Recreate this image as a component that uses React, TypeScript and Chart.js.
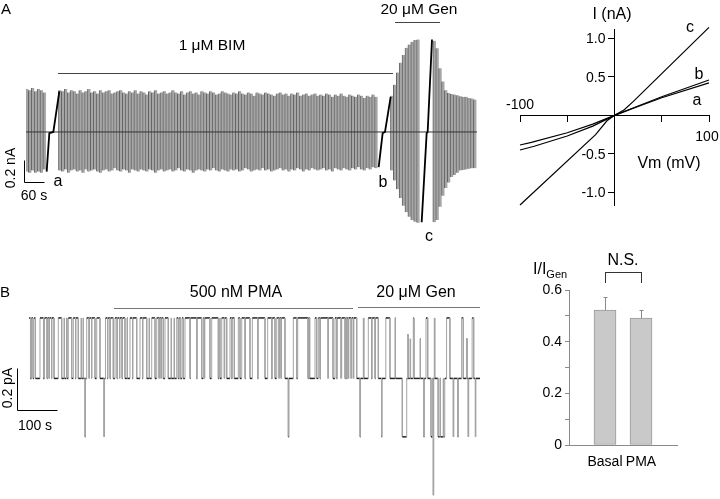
import React, { useEffect, useRef } from 'react';
import { Chart, registerables } from 'chart.js';

Chart.register(...registerables);

const FONT = '"Liberation Sans", Arial, Helvetica, sans-serif';

// ---------------- Panel A: whole-cell ramp currents (nA vs s) ----------------
const A_DURATION_S = 1353;
const A_SWEEP_INTERVAL_S = 8.7;
const A_HOLDING_NA = 0;
const A_SCALE_TIME_S = 60;
const A_SCALE_CURRENT_NA = 0.2;

const aPreStart = 3;
const aPreMax = [0.39, 0.38, 0.4, 0.37, 0.39, 0.38, 0.36];
const aPreMin = [-0.36, -0.37, -0.35, -0.37, -0.36, -0.37, -0.34];

const aBimStart = 102;
const aBimMax = [
  0.38, 0.37, 0.39, 0.36, 0.38, 0.37, 0.35, 0.38, 0.36, 0.37,
  0.39, 0.36, 0.37, 0.35, 0.38, 0.36, 0.37, 0.38, 0.35, 0.36,
  0.37, 0.38, 0.36, 0.35, 0.37, 0.36, 0.38, 0.35, 0.37, 0.36,
  0.34, 0.37, 0.36, 0.38, 0.35, 0.36, 0.37, 0.35, 0.36, 0.38,
  0.36, 0.35, 0.37, 0.34, 0.36, 0.37, 0.35, 0.36, 0.34, 0.37,
  0.36, 0.35, 0.37, 0.36, 0.34, 0.35, 0.37, 0.36, 0.35, 0.34,
  0.36, 0.35, 0.37, 0.35, 0.34, 0.36, 0.35, 0.33, 0.36, 0.35,
  0.34, 0.36, 0.35, 0.34, 0.33, 0.35, 0.36, 0.34, 0.35, 0.33,
  0.35, 0.34, 0.36, 0.33, 0.34, 0.35, 0.33, 0.34, 0.35, 0.33,
  0.34, 0.33, 0.35, 0.34, 0.32, 0.34, 0.33, 0.35, 0.33, 0.32,
  0.34, 0.33, 0.32, 0.34, 0.33, 0.31, 0.33, 0.32, 0.34, 0.32,
];
const aBimMin = [
  -0.35, -0.36, -0.34, -0.37, -0.35, -0.34, -0.36, -0.35, -0.37, -0.34,
  -0.36, -0.35, -0.34, -0.36, -0.37, -0.35, -0.34, -0.36, -0.35, -0.33,
  -0.35, -0.36, -0.34, -0.35, -0.37, -0.34, -0.35, -0.36, -0.34, -0.35,
  -0.36, -0.34, -0.35, -0.37, -0.35, -0.34, -0.36, -0.35, -0.34, -0.36,
  -0.35, -0.33, -0.35, -0.36, -0.34, -0.35, -0.37, -0.35, -0.34, -0.35,
  -0.36, -0.34, -0.35, -0.33, -0.35, -0.36, -0.34, -0.35, -0.36, -0.34,
  -0.35, -0.34, -0.36, -0.35, -0.33, -0.34, -0.36, -0.35, -0.34, -0.35,
  -0.33, -0.35, -0.34, -0.36, -0.35, -0.34, -0.33, -0.35, -0.34, -0.36,
  -0.34, -0.35, -0.33, -0.34, -0.36, -0.34, -0.35, -0.33, -0.34, -0.35,
  -0.34, -0.33, -0.35, -0.34, -0.36, -0.33, -0.34, -0.35, -0.33, -0.34,
  -0.35, -0.33, -0.34, -0.32, -0.34, -0.35, -0.33, -0.34, -0.32, -0.33,
];

const aGenStart = 1098;
const aGenMax = [0.33, 0.43, 0.54, 0.63, 0.7, 0.765, 0.795, 0.82, 0.835, 0.84];
const aGenMin = [-0.35, -0.44, -0.52, -0.6, -0.67, -0.73, -0.77, -0.8, -0.815, -0.825];

const aPostStart = 1225;
const aPostMax = [0.83, 0.76, 0.58, 0.46, 0.38, 0.355, 0.345, 0.34, 0.335, 0.325, 0.32, 0.32, 0.31, 0.305, 0.295];
const aPostMin = [-0.82, -0.8, -0.68, -0.58, -0.51, -0.46, -0.41, -0.39, -0.37, -0.35, -0.345, -0.34, -0.335, -0.33, -0.33];

// slow I-V ramps a, b, c
const aRampATime = [62, 70, 82, 100];
const aRampACurrent = [-0.36, -0.01, 0, 0.37];
const aRampBTime = [1058, 1070, 1077, 1094];
const aRampBCurrent = [-0.32, -0.01, 0, 0.32];
const aRampCTime = [1187, 1202, 1205, 1218];
const aRampCCurrent = [-0.82, -0.01, 0, 0.84];

// ---------------- I-V relation (nA vs mV) ----------------
const ivVmA = [-100, -88, -50, -23, 0, 25, 50, 100];
const ivIA = [-0.384, -0.35, -0.225, -0.114, 0, 0.115, 0.228, 0.42];
const ivVmB = [-100, -85, -50, -23, 0, 25, 50, 100];
const ivIB = [-0.449, -0.4, -0.268, -0.14, 0, 0.12, 0.24, 0.457];
const ivVmC = [-100, -20, -8, 0, 10, 20, 100];
const ivIC = [-1.16, -0.25, -0.07, 0, 0.07, 0.18, 1.138];

// ---------------- Panel B: single-channel record (pA vs s) ----------------
const B_DURATION_S = 1145.5;
const B_INITIAL_PA = 0;
const B_SCALE_TIME_S = 100;
const B_SCALE_CURRENT_PA = 0.2;
const bEventTimes = [
  3.8, 6.4, 10.2, 12.7, 16.5, 27.9, 36.8, 39.4, 45.7, 47.0, 50.8, 52.1, 57.2, 58.4, 63.5, 74.4,
  83.1, 88.9, 90.2, 95.3, 96.5, 99.8, 108.5, 112.5, 118.1, 119.4, 125.2, 132.1, 133.4, 137.2, 138.4,
  142.2, 143.5, 146.6, 152.4, 153.7, 158.8, 160.0, 167.6, 172.0, 180.3, 190.5, 191.8, 194.3, 199.4,
  200.7, 205.7, 207.0, 214.1, 218.4, 223.5, 224.8, 229.9, 231.1, 236.2, 237.5, 243.8, 248.9, 250.2,
  256.5, 262.9, 264.2, 273.6, 281.9, 288.3, 289.6, 299.0, 304.8, 306.1, 311.7, 320.0, 324.4, 330.2,
  331.5, 335.3, 336.6, 341.1, 345.4, 353.8, 360.7, 361.9, 368.3, 369.6, 375.2, 379.2, 381.8, 384.8,
  388.6, 391.9, 396.2, 408.9, 410.2, 426.0, 427.3, 438.7, 442.8, 445.3, 446.6, 459.7, 464.1, 480.8,
  482.6, 485.1, 489.5, 496.1, 497.3, 502.2, 510.5, 514.9, 516.1, 521.5, 531.6, 535.9, 540.3, 548.6,
  549.9, 561.3, 567.2, 580.9, 582.2, 599.4, 606.2, 616.5, 617.8, 624.8, 629.2, 635.0, 636.3, 640.1,
  641.4, 650.2, 658.6, 660.4, 671.3, 680.0, 682.5, 708.6, 709.9, 712.9, 726.4, 730.7, 734.8, 739.1,
  740.4, 759.5, 760.7, 772.2, 777.2, 781.6, 782.8, 792.5, 794.3, 802.6, 803.9, 807.0, 808.3, 811.1,
  812.4, 818.0, 819.8, 823.9, 825.2, 832.4, 840.7, 842.0, 849.1, 850.4, 861.8, 870.3, 871.6, 878.8,
  880.1, 887.2, 895.6, 896.9, 906.2, 916.9, 929.6, 930.9, 948.2, 959.4, 961.9, 963.2, 967.8, 969.1,
  976.1, 977.9, 993.1, 994.4, 1002.8, 1004.1, 1008.4, 1012.7, 1021.0, 1025.3, 1026.8, 1028.1, 1029.3,
  1030.6, 1039.2, 1043.8, 1045.1, 1052.0, 1053.2, 1056.0, 1060.6, 1069.0, 1077.7, 1079.0, 1089.1,
  1090.4, 1098.9, 1103.0, 1111.5, 1112.8, 1115.6, 1116.9, 1125.5, 1129.5, 1133.8, 1135.1,
];
const bEventLevels = [
  -0.29, 0, -0.29, 0, -0.29, 0, -0.29, 0, -0.29, 0, -0.29, 0, -0.29, 0, -0.29, 0,
  -0.29, 0, -0.29, 0, -0.29, 0, -0.29, 0, -0.29, 0, -0.29, 0, -0.29, 0, -0.29,
  -0.57, -0.29, 0, -0.29, 0, -0.29, 0, -0.29, 0, -0.29, -0.57, -0.29, 0, -0.29,
  0, -0.29, 0, -0.29, 0, -0.29, 0, -0.29, 0, -0.29, 0, -0.29, 0, -0.29,
  0, -0.29, 0, -0.29, 0, -0.29, 0, -0.29, 0, -0.29, 0, -0.29, 0, -0.29,
  0, -0.29, 0, -0.29, 0, -0.29, 0, -0.29, 0, -0.29, 0, -0.29, 0, -0.29,
  0, -0.29, 0, -0.29, 0, -0.29, 0, -0.29, 0, -0.29, 0, -0.29, 0, -0.29,
  0, -0.29, 0, -0.29, 0, -0.29, 0, -0.29, 0, -0.29, 0, -0.29, 0, -0.29,
  0, -0.29, 0, -0.29, 0, -0.29, 0, -0.29, 0, -0.29, 0, -0.29, 0, -0.29,
  0, -0.29, -0.57, -0.29, 0, -0.29, 0, -0.29, 0, -0.29, 0, -0.29, 0, -0.29,
  0, -0.29, 0, -0.29, 0, -0.29, 0, -0.29, 0, -0.29, 0, -0.29, 0, -0.29,
  0, -0.29, 0, -0.29, 0, -0.29, -0.57, -0.29, 0, -0.29, 0, -0.29, 0, -0.29,
  0, -0.29, -0.57, -0.29, 0, -0.29, 0, -0.29, -0.57, -0.29, -0.08, -0.29, -0.1, -0.29,
  0, -0.29, -0.1, -0.29, -0.57, -0.29, 0, -0.29, -0.57, -0.29, -0.85, -0.29, 0,
  -0.29, -0.57, -0.29, -0.57, -0.29, -0.57, -0.29, 0, -0.29, -0.57, -0.29, -0.57,
  -0.29, 0, -0.29, -0.1, -0.29, -0.57, -0.29, 0, -0.29, -0.57, -0.29,
];

// ---------------- Bar summary ----------------
const barLabels = ['Basal', 'PMA'];
const barMeans = [0.522, 0.491];
const barErrors = [0.049, 0.031];

// ---------------- helpers ----------------
type Pt = { x: number; y: number };

function sweepBars(start: number, maxs: number[], mins: number[]) {
  return maxs.map((m, i) => ({ x: start + i * A_SWEEP_INTERVAL_S, y: [mins[i], m] }));
}
function pairs(xs: number[], ys: number[]): Pt[] {
  return xs.map((x, i) => ({ x, y: ys[i] }));
}
function stepPoints(times: number[], levels: number[], end: number, initial: number): Pt[] {
  const pts: Pt[] = [{ x: 0, y: initial }];
  let cur = initial;
  times.forEach((t, i) => {
    pts.push({ x: t, y: cur });
    cur = levels[i];
    pts.push({ x: t, y: cur });
  });
  pts.push({ x: end, y: cur });
  return pts;
}

function scaleBarPlugin(cornerX: number, cornerY: number, dx: number, dy: number) {
  return {
    id: 'scaleBar',
    afterDraw(chart: any) {
      const { ctx, scales } = chart;
      const x0 = Math.round(scales.x.getPixelForValue(cornerX)) + 0.5;
      const y0 = Math.round(scales.y.getPixelForValue(cornerY)) + 0.5;
      const x1 = Math.round(scales.x.getPixelForValue(cornerX + dx)) + 0.5;
      const y1 = Math.round(scales.y.getPixelForValue(cornerY + dy)) + 0.5;
      ctx.save();
      ctx.strokeStyle = '#000';
      ctx.lineWidth = 1;
      ctx.beginPath();
      ctx.moveTo(x0, y1);
      ctx.lineTo(x0, y0);
      ctx.lineTo(x1, y0);
      ctx.stroke();
      ctx.restore();
    },
  };
}

const ivTickLabelPlugin = {
  id: 'ivTickLabels',
  afterDraw(chart: any) {
    const { ctx, scales } = chart;
    const axisX = scales.x.getPixelForValue(0);
    ctx.save();
    ctx.fillStyle = '#000';
    ctx.font = `14px ${FONT}`;
    ctx.textAlign = 'right';
    ctx.textBaseline = 'middle';
    scales.y.ticks.forEach((t: any) => {
      if (Math.abs(t.value) < 1e-9) return;
      ctx.fillText(Number(t.value).toFixed(1), axisX - 9, scales.y.getPixelForValue(t.value) + 1);
    });
    ctx.restore();
  },
};

const errorBarPlugin = {
  id: 'errorBars',
  afterDatasetsDraw(chart: any) {
    const { ctx, scales } = chart;
    ctx.save();
    ctx.strokeStyle = '#8a8a8a';
    ctx.lineWidth = 1;
    barMeans.forEach((m, i) => {
      const x = Math.round(scales.x.getPixelForValue(i + 1)) + 0.5;
      const yTop = Math.round(scales.y.getPixelForValue(m + barErrors[i])) + 0.5;
      const yBase = scales.y.getPixelForValue(m);
      ctx.beginPath();
      ctx.moveTo(x, yBase);
      ctx.lineTo(x, yTop);
      ctx.moveTo(x - 2, yTop);
      ctx.lineTo(x + 2, yTop);
      ctx.stroke();
    });
    ctx.restore();
  },
};

const noLegend = { legend: { display: false }, tooltip: { enabled: false } };

function configA(): any {
  const sweeps = [
    ...sweepBars(aPreStart, aPreMax, aPreMin),
    ...sweepBars(aBimStart, aBimMax, aBimMin),
    ...sweepBars(aGenStart, aGenMax, aGenMin),
    ...sweepBars(aPostStart, aPostMax, aPostMin),
  ];
  const ramp = (t: number[], c: number[]) => ({
    type: 'line',
    data: pairs(t, c),
    borderColor: '#000',
    borderWidth: 1.8,
    pointRadius: 0,
    tension: 0,
    order: 0,
  });
  return {
    type: 'bar',
    data: {
      datasets: [
        {
          type: 'line',
          data: [
            { x: 0, y: A_HOLDING_NA },
            { x: A_DURATION_S, y: A_HOLDING_NA },
          ],
          borderColor: '#333',
          borderWidth: 1,
          pointRadius: 0,
          order: 1,
        },
        ramp(aRampATime, aRampACurrent),
        ramp(aRampBTime, aRampBCurrent),
        ramp(aRampCTime, aRampCCurrent),
        {
          type: 'bar',
          data: sweeps,
          backgroundColor: '#a6a6a6',
          borderColor: '#626262',
          borderWidth: { left: 1, right: 0, top: 0, bottom: 0 },
          borderSkipped: false,
          barThickness: 3.1,
          order: 3,
        },
      ],
    },
    options: {
      responsive: false,
      animation: false,
      events: [],
      layout: { padding: { left: 26, right: 3, top: 30, bottom: 20 } },
      plugins: noLegend,
      scales: {
        x: { type: 'linear', min: 0, max: A_DURATION_S, display: false, offset: false },
        y: { type: 'linear', min: -0.891, max: 0.927, display: false, stacked: false },
      },
    },
    plugins: [scaleBarPlugin(-6, -0.455, A_SCALE_TIME_S, A_SCALE_CURRENT_NA)],
  };
}

function configIV(): any {
  const line = (vm: number[], i: number[]) => ({
    data: pairs(vm, i),
    borderColor: '#000',
    borderWidth: 1.2,
    pointRadius: 0,
    tension: 0,
    clip: false,
  });
  const axisCommon = {
    grid: { drawOnChartArea: false, drawTicks: true, tickLength: 6, color: '#000', lineWidth: 1 },
    border: { display: true, color: '#000', width: 1 },
  };
  return {
    type: 'line',
    data: { datasets: [line(ivVmA, ivIA), line(ivVmB, ivIB), line(ivVmC, ivIC)] },
    options: {
      responsive: false,
      animation: false,
      events: [],
      layout: { padding: { left: 40, right: 11, top: 29, bottom: 25 } },
      plugins: noLegend,
      scales: {
        x: {
          type: 'linear',
          min: -100,
          max: 100,
          position: { y: 0 },
          ticks: { display: false, stepSize: 50 },
          ...axisCommon,
        },
        y: {
          type: 'linear',
          min: -1.16,
          max: 1.117,
          position: { x: 0 },
          ticks: { display: false, stepSize: 0.5, includeBounds: false },
          ...axisCommon,
        },
      },
    },
    plugins: [ivTickLabelPlugin],
  };
}

function configB(): any {
  const flat = (ctx: any) => ctx.p0.parsed.y === ctx.p1.parsed.y;
  return {
    type: 'line',
    data: {
      datasets: [
        {
          data: stepPoints(bEventTimes, bEventLevels, B_DURATION_S, B_INITIAL_PA),
          borderColor: '#a0a0a0',
          borderWidth: 1,
          pointRadius: 0,
          tension: 0,
          segment: {
            borderColor: (ctx: any) => (flat(ctx) ? '#222' : '#a4a4a4'),
            borderWidth: (ctx: any) => (flat(ctx) ? 1.5 : 1),
          },
        },
      ],
    },
    options: {
      responsive: false,
      animation: false,
      events: [],
      layout: { padding: { left: 29, right: 20, top: 20, bottom: 0 } },
      plugins: noLegend,
      scales: {
        x: { type: 'linear', min: 0, max: B_DURATION_S, display: false },
        y: { type: 'linear', min: -0.868, max: 0.086, display: false },
      },
    },
    plugins: [scaleBarPlugin(-30, -0.441, B_SCALE_TIME_S, B_SCALE_CURRENT_PA)],
  };
}

function configBar(): any {
  return {
    type: 'bar',
    data: {
      datasets: [
        {
          data: barMeans.map((m, i) => ({ x: i + 1, y: m })),
          backgroundColor: '#c9c9c9',
          borderColor: '#9a9a9a',
          borderWidth: 1,
          borderSkipped: false,
          barThickness: 22,
        },
      ],
    },
    options: {
      responsive: false,
      animation: false,
      events: [],
      layout: { padding: { left: 0, right: 43, top: 50, bottom: 0 } },
      plugins: noLegend,
      scales: {
        x: {
          type: 'linear',
          min: 0,
          max: 3,
          offset: false,
          position: 'bottom',
          afterFit: (s: any) => {
            s.height = 54;
          },
          grid: { display: false, drawTicks: false },
          border: { display: true, color: '#8a8a8a', width: 1 },
          ticks: {
            stepSize: 1,
            autoSkip: false,
            maxRotation: 0,
            padding: 9,
            color: '#000',
            font: { family: FONT, size: 14 },
            callback: (v: number) => barLabels[Math.round(v) - 1] ?? '',
          },
        },
        y: {
          type: 'linear',
          min: 0,
          max: 0.6,
          position: 'left',
          afterFit: (s: any) => {
            s.width = 49;
          },
          grid: { drawOnChartArea: false, drawTicks: true, tickLength: 4, color: '#8a8a8a' },
          border: { display: true, color: '#8a8a8a', width: 1 },
          ticks: {
            stepSize: 0.1,
            autoSkip: false,
            padding: 3,
            color: '#000',
            font: { family: FONT, size: 14 },
            callback: (v: number) => {
              const k = Math.round(v * 10);
              if (k % 2 !== 0) return '';
              return k === 0 ? '0' : (k / 10).toFixed(1);
            },
          },
        },
      },
    },
    plugins: [errorBarPlugin],
  };
}

function ChartBox({ left, top, width, height, make }: { left: number; top: number; width: number; height: number; make: () => any }) {
  const ref = useRef<HTMLCanvasElement>(null);
  useEffect(() => {
    const chart = new Chart(ref.current as HTMLCanvasElement, make());
    return () => chart.destroy();
  }, []);
  return (
    <canvas
      ref={ref}
      width={width}
      height={height}
      style={{ position: 'absolute', left, top, width, height }}
    />
  );
}

function Txt({ x, y, size = 15, rotate = false, children }: { x: number; y: number; size?: number; rotate?: boolean; children: React.ReactNode }) {
  return (
    <div
      style={{
        position: 'absolute',
        left: x,
        top: y,
        fontFamily: FONT,
        fontSize: size,
        lineHeight: 1,
        whiteSpace: 'nowrap',
        color: '#000',
        transform: `translate(-50%, -50%)${rotate ? ' rotate(-90deg)' : ''}`,
      }}
    >
      {children}
    </div>
  );
}

function HLine({ x1, x2, y, color }: { x1: number; x2: number; y: number; color: string }) {
  return <div style={{ position: 'absolute', left: x1, top: y, width: x2 - x1, height: 1, background: color }} />;
}

export default function App() {
  return (
    <div
      style={{
        position: 'fixed',
        left: 0,
        top: 0,
        width: 720,
        height: 499,
        background: '#fff',
        overflow: 'hidden',
      }}
    >
      <ChartBox left={0} top={0} width={480} height={250} make={configA} />
      <ChartBox left={480} top={0} width={240} height={230} make={configIV} />
      <ChartBox left={0} top={280} width={500} height={219} make={configB} />
      <ChartBox left={520} top={240} width={200} height={259} make={configBar} />

      {/* Panel A annotations */}
      <Txt x={6} y={8} size={15}>A</Txt>
      <Txt x={212} y={45} size={15.5}>1 μM BIM</Txt>
      <HLine x1={58} x2={393} y={73} color="#444" />
      <Txt x={419} y={9} size={15.5}>20 μM Gen</Txt>
      <HLine x1={395} x2={440} y={22} color="#444" />
      <Txt x={10} y={168} size={14} rotate>0.2 nA</Txt>
      <Txt x={34} y={195} size={14}>60 s</Txt>
      <Txt x={58} y={181} size={16}>a</Txt>
      <Txt x={383} y={182} size={16}>b</Txt>
      <Txt x={429} y={236} size={16}>c</Txt>

      {/* I-V annotations */}
      <Txt x={612} y={14} size={16}>I (nA)</Txt>
      <Txt x={669} y={163} size={16}>Vm (mV)</Txt>
      <Txt x={520} y={104} size={14}>-100</Txt>
      <Txt x={707} y={136} size={14}>100</Txt>
      <Txt x={690} y={27} size={16}>c</Txt>
      <Txt x={699} y={74} size={16}>b</Txt>
      <Txt x={697} y={100} size={16}>a</Txt>

      {/* Panel B annotations */}
      <Txt x={5} y={291} size={15}>B</Txt>
      <Txt x={236} y={292} size={16}>500 nM PMA</Txt>
      <HLine x1={114} x2={353} y={308} color="#777" />
      <Txt x={416} y={292} size={16}>20 μM Gen</Txt>
      <HLine x1={358} x2={480} y={307} color="#777" />
      <Txt x={7} y={388} size={14} rotate>0.2 pA</Txt>
      <Txt x={35} y={425} size={14}>100 s</Txt>

      {/* Bar chart annotations */}
      <div
        style={{
          position: 'absolute',
          left: 533,
          top: 261,
          fontFamily: FONT,
          fontSize: 16,
          lineHeight: 1,
          whiteSpace: 'nowrap',
        }}
      >
        I/I<span style={{ fontSize: 11, position: 'relative', top: 4 }}>Gen</span>
      </div>
      <Txt x={623} y={260} size={16}>N.S.</Txt>
      <div
        style={{
          position: 'absolute',
          left: 605,
          top: 272,
          width: 35,
          height: 10,
          borderTop: '1px solid #333',
          borderLeft: '1px solid #333',
          borderRight: '1px solid #333',
        }}
      />
    </div>
  );
}
